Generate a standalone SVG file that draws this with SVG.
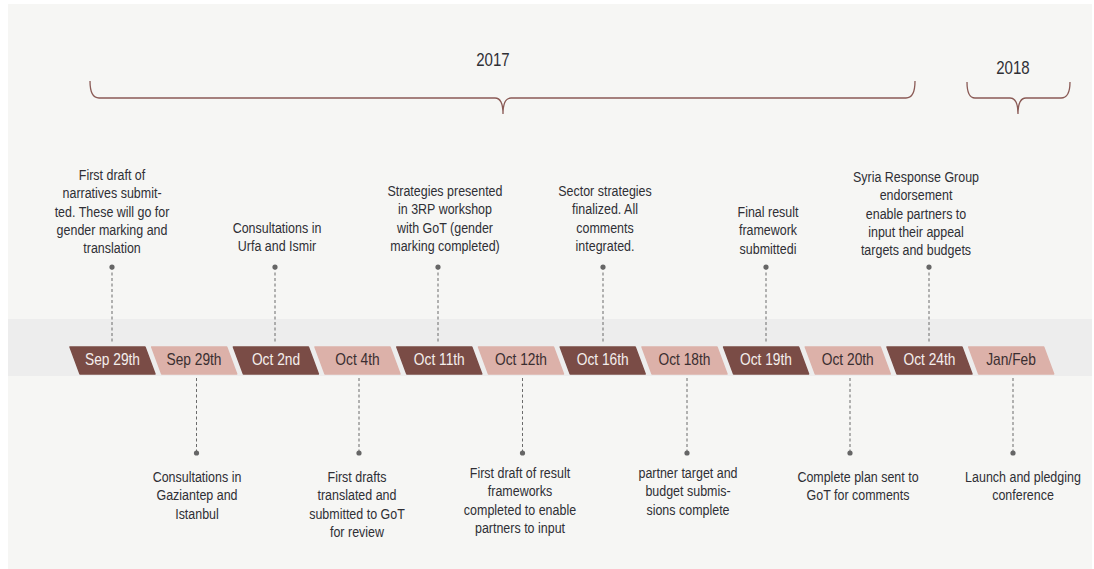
<svg xmlns="http://www.w3.org/2000/svg" width="1094" height="569" viewBox="0 0 1094 569">
<style>
text { font-family: "Liberation Sans", Arial, sans-serif; fill: #2f2f35; text-anchor: middle; transform-box: fill-box; transform-origin: center; transform: scaleX(0.86); }
.note { font-size: 14.5px; }
.year { font-size: 17.5px; }
.tag { font-size: 16px; }
.dk polygon { fill: #7a4c46; stroke: #7a4c46; stroke-width: 1.5; stroke-linejoin: round; }
.lt polygon { fill: #dcb1a9; stroke: #dcb1a9; stroke-width: 1.5; stroke-linejoin: round; }
.dk text { fill: #f4eeec; }
.lt text { fill: #3a2e30; }
.brace { fill: none; stroke: #8a5a55; stroke-width: 1.3; }
.dash { stroke: #6a6a6a; stroke-width: 1; stroke-dasharray: 3 2.5; fill: none; }
.dot { fill: #666; }
</style>
<rect x="0" y="0" width="1094" height="569" fill="#ffffff"/>
<rect x="8" y="4" width="1084" height="565" fill="#f6f6f4"/>
<rect x="8" y="319" width="1084" height="57" fill="#ededed"/>

<g id="years">
<text class="year" x="493" y="66">2017</text>
<path class="brace" d="M90,81 Q90,98 99,98 H495 Q503,98 503,114 Q503,98 511,98 H906 Q915,98 915,81"/>
<text class="year" x="1013" y="74">2018</text>
<path class="brace" d="M967,82 Q967,98 975,98 H1010 Q1018,98 1018,114 Q1018,98 1026,98 H1061 Q1070,98 1070,82"/>
</g>

<g id="connectors">
<path class="dash" d="M112,267 V344 M275,267 V344 M438,267 V344 M603,267 V344 M766,267 V344 M929,267 V344"/>
<path class="dash" d="M196.5,378 V453 M359,378 V453 M522.5,378 V453 M687,378 V453 M850,378 V453 M1013,378 V453"/>
<g class="dot">
<circle cx="112" cy="267" r="2.6"/><circle cx="275" cy="267" r="2.6"/><circle cx="438" cy="267" r="2.6"/><circle cx="603" cy="267" r="2.6"/><circle cx="766" cy="267" r="2.6"/><circle cx="929" cy="267" r="2.6"/>
<circle cx="196.5" cy="453" r="2.6"/><circle cx="359" cy="453" r="2.6"/><circle cx="522.5" cy="453" r="2.6"/><circle cx="687" cy="453" r="2.6"/><circle cx="850" cy="453" r="2.6"/><circle cx="1013" cy="453" r="2.6"/>
</g>
</g>

<g id="tag-sep29-a" class="dk"><polygon points="70,347 145,347 155,374 80,374"/><text class="tag" x="112.5" y="365">Sep 29th</text></g>
<g id="tag-sep29-b" class="lt"><polygon points="151.7,347 226.7,347 236.7,374 161.7,374"/><text class="tag" x="194" y="365">Sep 29th</text></g>
<g id="tag-oct2" class="dk"><polygon points="233.4,347 308.4,347 318.4,374 243.4,374"/><text class="tag" x="276" y="365">Oct 2nd</text></g>
<g id="tag-oct4" class="lt"><polygon points="315,347 390,347 400,374 325,374"/><text class="tag" x="357.5" y="365">Oct 4th</text></g>
<g id="tag-oct11" class="dk"><polygon points="396.8,347 471.8,347 481.8,374 406.8,374"/><text class="tag" x="439.3" y="365">Oct 11th</text></g>
<g id="tag-oct12" class="lt"><polygon points="478.5,347 553.5,347 563.5,374 488.5,374"/><text class="tag" x="521" y="365">Oct 12th</text></g>
<g id="tag-oct16" class="dk"><polygon points="560.2,347 635.2,347 645.2,374 570.2,374"/><text class="tag" x="602.7" y="365">Oct 16th</text></g>
<g id="tag-oct18" class="lt"><polygon points="642,347 717,347 727,374 652,374"/><text class="tag" x="684.5" y="365">Oct 18th</text></g>
<g id="tag-oct19" class="dk"><polygon points="723.6,347 798.6,347 808.6,374 733.6,374"/><text class="tag" x="766" y="365">Oct 19th</text></g>
<g id="tag-oct20" class="lt"><polygon points="805.3,347 880.3,347 890.3,374 815.3,374"/><text class="tag" x="847.8" y="365">Oct 20th</text></g>
<g id="tag-oct24" class="dk"><polygon points="887,347 962,347 972,374 897,374"/><text class="tag" x="929.5" y="365">Oct 24th</text></g>
<g id="tag-janfeb" class="lt"><polygon points="968.7,347 1043.7,347 1053.7,374 978.7,374"/><text class="tag" x="1011" y="365">Jan/Feb</text></g>

<g id="note-1"><text class="note" x="112" y="180"><tspan x="112">First draft of</tspan><tspan x="112" dy="18.3">narratives submit-</tspan><tspan x="112" dy="18.3">ted. These will go for</tspan><tspan x="112" dy="18.3">gender marking and</tspan><tspan x="112" dy="18.3">translation</tspan></text></g>
<g id="note-2"><text class="note" x="277" y="233"><tspan x="277">Consultations in</tspan><tspan x="277" dy="18.3">Urfa and Ismir</tspan></text></g>
<g id="note-3"><text class="note" x="445" y="196"><tspan x="445">Strategies presented</tspan><tspan x="445" dy="18.3">in 3RP workshop</tspan><tspan x="445" dy="18.3">with GoT (gender</tspan><tspan x="445" dy="18.3">marking completed)</tspan></text></g>
<g id="note-4"><text class="note" x="605" y="196"><tspan x="605">Sector strategies</tspan><tspan x="605" dy="18.3">finalized. All</tspan><tspan x="605" dy="18.3">comments</tspan><tspan x="605" dy="18.3">integrated.</tspan></text></g>
<g id="note-5"><text class="note" x="768" y="217"><tspan x="768">Final result</tspan><tspan x="768" dy="18.3">framework</tspan><tspan x="768" dy="18.3">submittedi</tspan></text></g>
<g id="note-6"><text class="note" x="916" y="182"><tspan x="916">Syria Response Group</tspan><tspan x="916" dy="18.3">endorsement</tspan><tspan x="916" dy="18.3">enable partners to</tspan><tspan x="916" dy="18.3">input their appeal</tspan><tspan x="916" dy="18.3">targets and budgets</tspan></text></g>

<g id="note-7"><text class="note" x="197" y="482"><tspan x="197">Consultations in</tspan><tspan x="197" dy="18.3">Gaziantep and</tspan><tspan x="197" dy="18.3">Istanbul</tspan></text></g>
<g id="note-8"><text class="note" x="357" y="482"><tspan x="357">First drafts</tspan><tspan x="357" dy="18.3">translated and</tspan><tspan x="357" dy="18.3">submitted to GoT</tspan><tspan x="357" dy="18.3">for review</tspan></text></g>
<g id="note-9"><text class="note" x="520" y="478"><tspan x="520">First draft of result</tspan><tspan x="520" dy="18.3">frameworks</tspan><tspan x="520" dy="18.3">completed to enable</tspan><tspan x="520" dy="18.3">partners to input</tspan></text></g>
<g id="note-10"><text class="note" x="688" y="478"><tspan x="688">partner target and</tspan><tspan x="688" dy="18.3">budget submis-</tspan><tspan x="688" dy="18.3">sions complete</tspan></text></g>
<g id="note-11"><text class="note" x="858" y="482"><tspan x="858">Complete plan sent to</tspan><tspan x="858" dy="18.3">GoT for comments</tspan></text></g>
<g id="note-12"><text class="note" x="1023" y="482"><tspan x="1023">Launch and pledging</tspan><tspan x="1023" dy="18.3">conference</tspan></text></g>
</svg>
